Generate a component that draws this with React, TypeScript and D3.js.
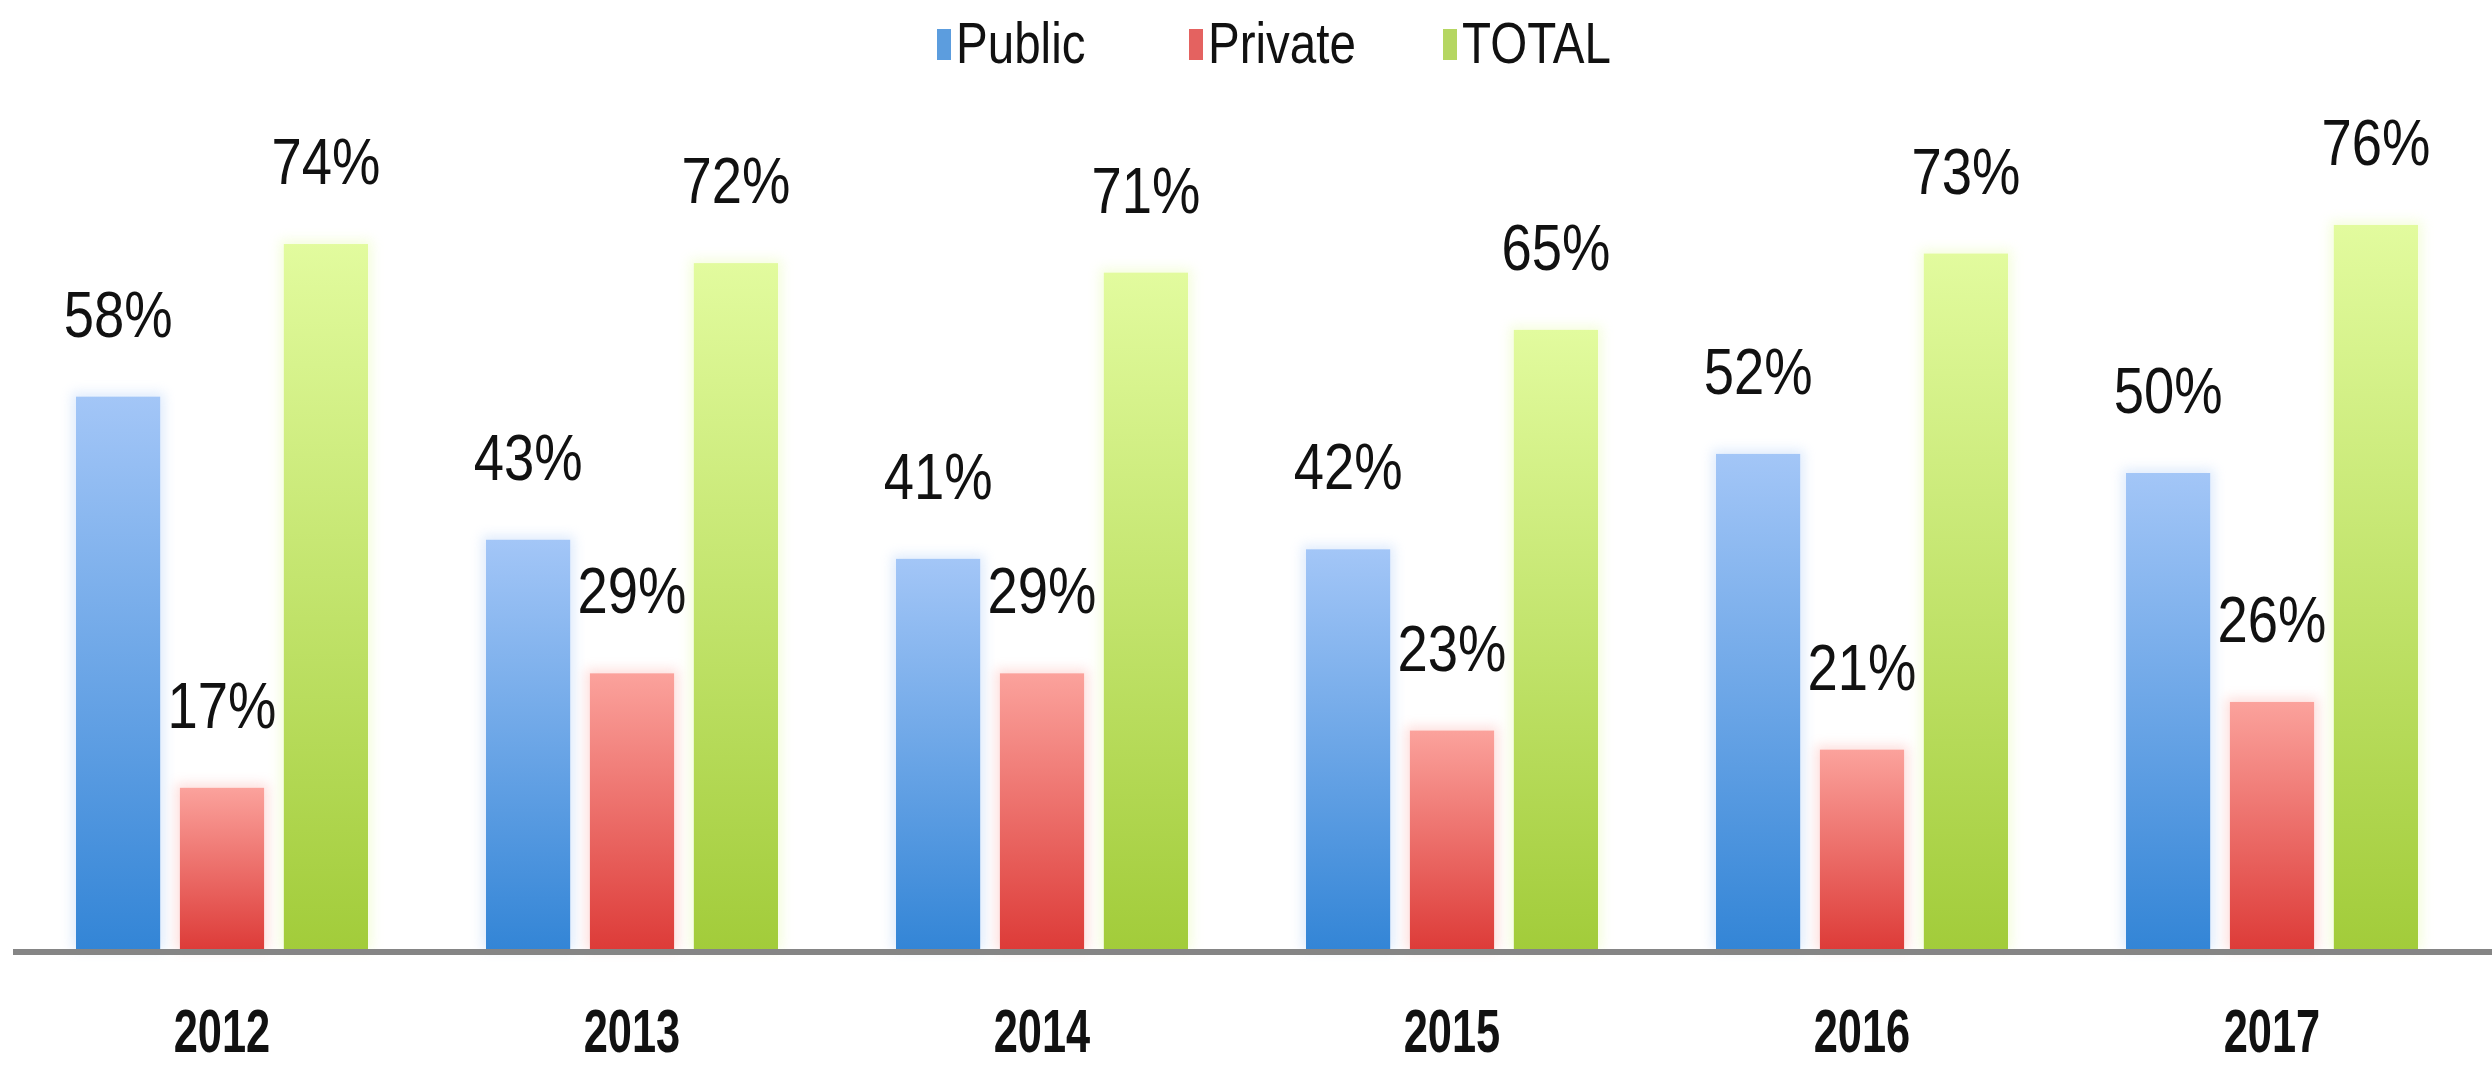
import * as d3 from "d3";

const years = ["2012", "2013", "2014", "2015", "2016", "2017"];
const seriesNames = ["Public", "Private", "TOTAL"];
const publicValues = [58, 43, 41, 42, 52, 50];
const privateValues = [17, 29, 29, 23, 21, 26];
const totalValues = [74, 72, 71, 65, 73, 76];

const W = 2492;
const H = 1067;
const baseY = 950;

// top / bottom colours of each bar gradient
const palette: Record<string, [string, string]> = {
  Public: ["#a3c6f7", "#3385d6"],
  Private: ["#fba29c", "#dd3b38"],
  TOTAL: ["#e2fb9e", "#a2cc3a"],
};

export default function App() {
  const valuesBySeries: Record<string, number[]> = {
    Public: publicValues,
    Private: privateValues,
    TOTAL: totalValues,
  };

  const x = d3.scalePoint<string>().domain(years).range([222, 222 + 5 * 410]);
  const inner = d3.scaleBand<string>().domain(seriesNames).range([-146, 146]).paddingInner(0.19);
  const y = d3.scaleLinear().domain([0, 100]).range([baseY, -4]);

  const font = "'Liberation Sans', Arial, sans-serif";

  // legend placement
  const legendX = d3.scaleOrdinal<string, number>().domain(seriesNames).range([937, 1189, 1443]);

  return (
    <svg
      width={W}
      height={H}
      viewBox={`0 0 ${W} ${H}`}
      style={{ position: "absolute", left: 0, top: 0, background: "#fff" }}
    >
      <defs>
        {seriesNames.map((s) => (
          <linearGradient key={s} id={`grad-${s}`} x1="0" y1="0" x2="0" y2="1">
            <stop offset="0%" stopColor={palette[s][0]} />
            <stop offset="100%" stopColor={palette[s][1]} />
          </linearGradient>
        ))}
        <filter id="halo" x="-20%" y="-20%" width="140%" height="140%">
          <feGaussianBlur stdDeviation="6" />
        </filter>
      </defs>

      {/* legend */}
      {seriesNames.map((s) => (
        <g key={s}>
          <rect x={legendX(s)} y={29} width={14} height={31} fill={palette[s][1]} opacity={0.8} />
          <text
            transform={`translate(${legendX(s) + 19},63) scale(0.82,1)`}
            fontFamily={font}
            fontSize={58}
            fill="#111"
          >
            {s}
          </text>
        </g>
      ))}

      {/* bars */}
      {years.map((yr, i) => (
        <g key={yr} transform={`translate(${x(yr)},0)`}>
          {seriesNames.map((s) => {
            const v = valuesBySeries[s][i];
            const bx = inner(s)!;
            const bw = inner.bandwidth();
            return (
              <g key={s}>
                <rect
                  x={bx - 4}
                  y={y(v) - 4}
                  width={bw + 8}
                  height={baseY - y(v) + 4}
                  fill={palette[s][0]}
                  opacity={0.35}
                  filter="url(#halo)"
                />
                <rect x={bx} y={y(v)} width={bw} height={baseY - y(v)} fill={`url(#grad-${s})`} />
                <text
                  transform={`translate(${bx + bw / 2},${y(v) - 60}) scale(0.85,1)`}
                  textAnchor="middle"
                  fontFamily={font}
                  fontSize={64}
                  fill="#111"
                >
                  {v}%
                </text>
              </g>
            );
          })}
          <text
            transform={`translate(0,1052) scale(0.7,1)`}
            textAnchor="middle"
            fontFamily={font}
            fontSize={62}
            fontWeight="bold"
            fill="#111"
          >
            {yr}
          </text>
        </g>
      ))}

      {/* axis line */}
      <line x1={13} x2={W} y1={baseY + 2} y2={baseY + 2} stroke="#858585" strokeWidth={6} />
    </svg>
  );
}
